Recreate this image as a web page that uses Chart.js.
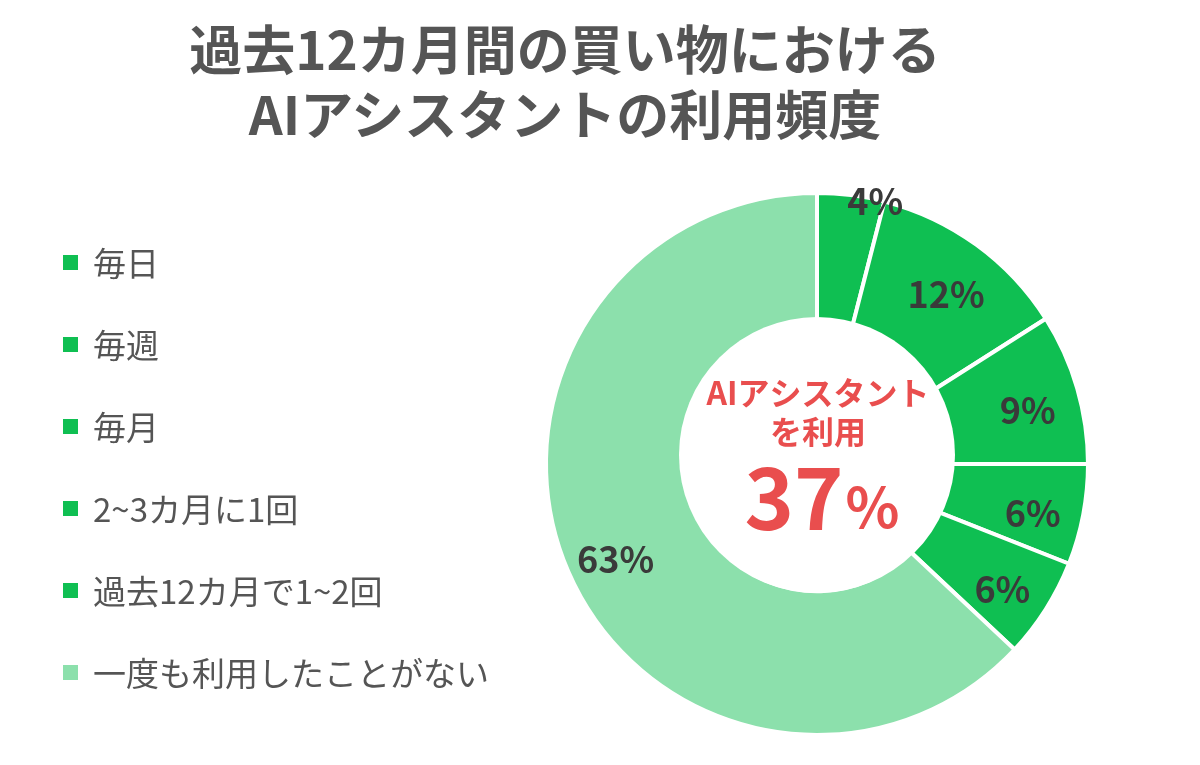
<!DOCTYPE html>
<html lang="ja">
<head>
<meta charset="utf-8">
<script src="https://cdn.jsdelivr.net/npm/chart.js@4/dist/chart.umd.min.js"></script>
<style>
  html, body { margin: 0; padding: 0; background: #fff; }
  body { width: 1200px; height: 765px; position: relative; overflow: hidden;
         font-family: "Noto Sans CJK JP", "Noto Sans", sans-serif; }
  #chart { position: absolute; left: 0; top: 0; }
  #title { position: absolute; left: 0; top: 15px; width: 1130px; text-align: center;
           font-size: 53px; line-height: 65px; font-weight: 700; color: #555; }
  #legend { position: absolute; left: 63px; top: 0; }
  .item { position: absolute; left: 0; white-space: nowrap; display: flex; align-items: center;
          font-size: 33px; color: #555; height: 40px; }
  .sw { width: 15px; height: 15px; margin-right: 15px; flex: none; }
</style>
</head>
<body>
<canvas id="chart" width="1200" height="765"></canvas>
<div id="title"></div>
<div id="legend"></div>
<script>
const titleLines = ["過去12カ月間の買い物における", "AIアシスタントの利用頻度"];
const categories = ["毎日", "毎週", "毎月", "2~3カ月に1回", "過去12カ月で1~2回", "一度も利用したことがない"];
const shares = [4, 12, 9, 6, 6, 63];
const sliceColors = ["#0fbf52", "#0fbf52", "#0fbf52", "#0fbf52", "#0fbf52", "#8ce0ac"];
const centerLines = ["AIアシスタント", "を利用"];
const centerValue = "37";
const centerUnit = "%";

document.getElementById('title').innerHTML = titleLines.join('<br>');
const legend = document.getElementById('legend');
categories.forEach((c, i) => {
  const d = document.createElement('div');
  d.className = 'item';
  d.style.top = (242 + i * 82) + 'px';
  const sw = document.createElement('span');
  sw.className = 'sw';
  sw.style.background = sliceColors[i];
  const t = document.createElement('span');
  t.textContent = c;
  d.appendChild(sw); d.appendChild(t);
  legend.appendChild(d);
});

const FONT = '"Noto Sans CJK JP", "Noto Sans", sans-serif';

const overlayPlugin = {
  id: 'overlay',
  afterDatasetsDraw(chart) {
    const ctx = chart.ctx;
    const meta = chart.getDatasetMeta(0);
    const data = chart.data.datasets[0].data;
    const first = meta.data[0];
    const cx = first.x, cy = first.y;
    ctx.save();
    // inner white disc (slightly raised, as in the reference)
    ctx.beginPath();
    ctx.arc(cx, cy - 9, 138, 0, Math.PI * 2);
    ctx.fillStyle = '#fff';
    ctx.fill();

    // slice labels
    ctx.font = 'bold 36px ' + FONT;
    ctx.fillStyle = '#3a3a3a';
    ctx.textBaseline = 'middle';
    meta.data.forEach((arc, i) => {
      const p = arc.getProps(['x', 'y', 'startAngle', 'endAngle', 'outerRadius'], true);
      const mid = (p.startAngle + p.endAngle) / 2;
      const v = data[i];
      let r;
      if (v < 5) { r = p.outerRadius + 2; ctx.textAlign = 'left'; }
      else { r = p.outerRadius * 0.81; ctx.textAlign = 'center'; }
      ctx.fillText(v + '%', p.x + Math.cos(mid) * r - (v < 5 ? 4 : 0), p.y + Math.sin(mid) * r + 8);
    });

    // center text
    ctx.fillStyle = '#e94e4e';
    ctx.textAlign = 'center';
    ctx.font = 'bold 32px ' + FONT;
    ctx.fillText(centerLines[0], cx + 1, cy - 71);
    ctx.fillText(centerLines[1], cx + 1, cy - 32);
    ctx.textBaseline = 'alphabetic';
    ctx.textAlign = 'left';
    ctx.font = 'bold 84px ' + FONT;
    const w1 = ctx.measureText(centerValue).width;
    ctx.font = 'bold 56px ' + FONT;
    const w2 = ctx.measureText(centerUnit).width;
    const x0 = cx + 4 - (w1 + w2) / 2;
    ctx.font = 'bold 84px ' + FONT;
    ctx.fillText(centerValue, x0, cy + 66);
    ctx.font = 'bold 56px ' + FONT;
    ctx.fillText(centerUnit, x0 + w1 + 2, cy + 64);
    ctx.restore();
  }
};

new Chart(document.getElementById('chart'), {
  type: 'doughnut',
  data: {
    labels: categories,
    datasets: [{
      data: shares,
      backgroundColor: sliceColors,
      borderColor: '#ffffff',
      borderWidth: 4
    }]
  },
  options: {
    responsive: false,
    animation: false,
    devicePixelRatio: 1,
    radius: 271,
    cutout: '47%',
    layout: { padding: { left: 434, top: 163, right: 0, bottom: 0 } },
    plugins: { legend: { display: false }, tooltip: { enabled: false } }
  },
  plugins: [overlayPlugin]
});
</script>
</body>
</html>
